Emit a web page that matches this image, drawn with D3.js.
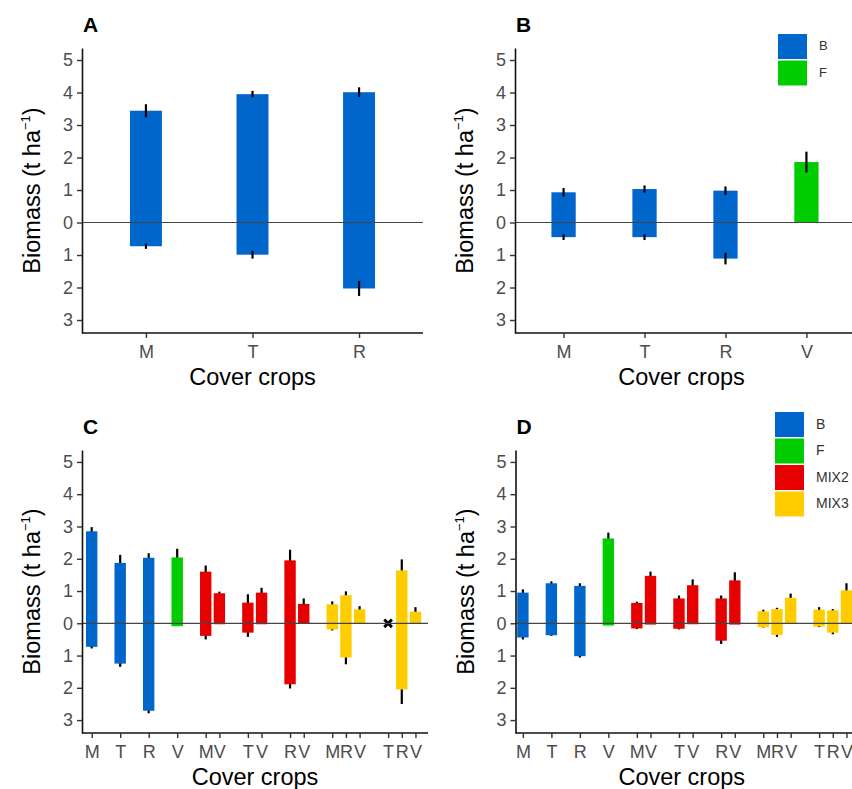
<!DOCTYPE html>
<html>
<head>
<meta charset="utf-8">
<script src="https://cdn.jsdelivr.net/npm/d3@7"></script>
<style>
  body { margin: 0; background: #fff; }
  svg text { font-family: 'Liberation Sans', Arial, sans-serif; }
</style>
</head>
<body>
<svg id="chart" width="852" height="789"></svg>
<script>
// ---- data (t/ha), shoot above zero, root below ----
const cropsA = ['M', 'T', 'R']
const shootA = [3.44, 3.95, 4.01]
const shootSeA = [0.20, 0.10, 0.15]
const rootA = [0.73, 0.99, 2.03]
const rootSeA = [0.08, 0.12, 0.23]

const cropsB = ['M', 'T', 'R', 'V']
const shootB = [0.93, 1.03, 0.98, 1.86]
const shootSeB = [0.13, 0.11, 0.13, 0.32]
const rootB = [0.45, 0.45, 1.11, 0]
const rootSeB = [0.09, 0.09, 0.18, 0]

// C and D: one bar per species inside each mixture
const groups = ['M', 'T', 'R', 'V', 'MV', 'TV', 'RV', 'MRV', 'TRV']
const groupType = ['B', 'B', 'B', 'F', 'MIX2', 'MIX2', 'MIX2', 'MIX3', 'MIX3']

const shootC = [2.85, 1.87, 2.03, 2.04, 1.60, 0.93, 0.64, 0.95, 1.95, 0.60, 0.59, 0.87, 0.43, null, 1.64, 0.36]
const shootSeC = [0.13, 0.25, 0.14, 0.27, 0.19, 0.05, 0.26, 0.15, 0.33, 0.17, 0.09, 0.12, 0.10, null, 0.34, 0.14]
const rootC = [0.73, 1.25, 2.71, 0.09, 0.39, 0.03, 0.29, 0.03, 1.89, 0.02, 0.19, 1.06, 0.02, null, 2.05, 0.02]
const rootSeC = [0.05, 0.10, 0.08, 0, 0.11, 0, 0.13, 0, 0.13, 0, 0.03, 0.21, 0, null, 0.45, 0]

const shootD = [0.95, 1.24, 1.16, 2.63, 0.63, 1.47, 0.77, 1.18, 0.77, 1.33, 0.37, 0.44, 0.79, 0.42, 0.40, 1.02]
const shootSeD = [0.10, 0.06, 0.08, 0.18, 0.04, 0.13, 0.09, 0.18, 0.09, 0.25, 0.05, 0.04, 0.13, 0.08, 0.04, 0.22]
const rootD = [0.44, 0.37, 1.02, 0.07, 0.16, 0.04, 0.17, 0.03, 0.54, 0.04, 0.12, 0.36, 0.01, 0.10, 0.29, 0.01]
const rootSeD = [0.06, 0.02, 0.04, 0, 0.02, 0, 0.02, 0, 0.10, 0, 0.01, 0.06, 0, 0.02, 0.05, 0]

const legendTypes = ['B', 'F', 'MIX2', 'MIX3']
const yTicks = [-3, -2, -1, 0, 1, 2, 3, 4, 5]

const colors = {B: '#0066cc', F: '#00cc00', MIX2: '#e60000', MIX3: '#ffcc00'}

let svg = d3.select('#chart')

// species bars for C / D, positions: 1 unit between groups, 0.48 within a mixture
function speciesBars (shoot, shootSe, root, rootSe) {
    let bars = []
    let pos = 0
    groups.forEach((g, gi) => {
        g.split('').forEach((letter, li) => {
            pos += li == 0 ? 1 : 0.48
            let i = bars.length
            bars.push({label: letter, pos: pos, type: groupType[gi],
                shoot: shoot[i], shootSe: shootSe[i], root: root[i], rootSe: rootSe[i]})
        })
    })
    return bars
}

function simpleBars (crops, shoot, shootSe, root, rootSe) {
    return crops.map((c, i) => ({label: c, pos: i + 1, type: c == 'V' ? 'F' : 'B',
        shoot: shoot[i], shootSe: shootSe[i], root: root[i], rootSe: rootSe[i]}))
}

function drawPanel (p) {
    let g = svg.append('g')
    let x = d3.scaleLinear().domain(p.xDomain).range(p.xRange)
    let y = d3.scaleLinear().domain([-3.4, 5.37]).range(p.yRange)
    let bw = p.barWidth

    let data = p.bars.filter(d => d.shoot != null)

    function errors () {
        g.selectAll(null).data(data).enter().append('line')
        .attr('x1', d => x(d.pos)).attr('x2', d => x(d.pos))
        .attr('y1', d => y(d.shoot - d.shootSe)).attr('y2', d => y(d.shoot + d.shootSe))
        .attr('stroke', '#000').attr('stroke-width', 2.2)
        g.selectAll(null).data(data.filter(d => d.rootSe > 0)).enter().append('line')
        .attr('x1', d => x(d.pos)).attr('x2', d => x(d.pos))
        .attr('y1', d => y(-d.root + d.rootSe)).attr('y2', d => y(-d.root - d.rootSe))
        .attr('stroke', '#000').attr('stroke-width', 2.2)
    }

    if (!p.errorsOnTop) errors()

    g.selectAll(null).data(data).enter().append('rect')
    .attr('x', d => x(d.pos - bw / 2))
    .attr('width', d => x(d.pos + bw / 2) - x(d.pos - bw / 2))
    .attr('y', d => y(d.shoot))
    .attr('height', d => y(-d.root) - y(d.shoot))
    .attr('fill', d => colors[d.type])

    if (p.errorsOnTop) errors()

    // missing species
    g.selectAll(null).data(p.bars.filter(d => d.shoot == null)).enter().append('path')
    .attr('d', d3.symbol().type(d3.symbolX).size(40))
    .attr('transform', d => `translate(${x(d.pos)},${y(0)})`)
    .attr('stroke', '#000').attr('stroke-width', 3).attr('fill', 'none')

    // zero line
    g.append('line')
    .attr('x1', p.xRange[0]).attr('x2', p.xRange[1])
    .attr('y1', y(0)).attr('y2', y(0))
    .attr('stroke', '#444').attr('stroke-width', 1.2)

    // axes
    let yAxis = g.append('g').attr('transform', `translate(${p.xRange[0]},0)`)
    .call(d3.axisLeft(y).tickValues(yTicks).tickFormat(d => Math.abs(d)).tickSize(5).tickSizeOuter(0).tickPadding(4))
    let xAxis = g.append('g').attr('transform', `translate(0,${p.yRange[0]})`)
    .call(d3.axisBottom(x).tickValues(p.bars.map(d => d.pos)).tickFormat((d, i) => p.bars[i].label)
        .tickSize(5).tickSizeOuter(0).tickPadding(7))

    for (let a of [yAxis, xAxis]) {
        a.select('.domain').attr('stroke', '#111').attr('stroke-width', 1.6)
        a.selectAll('.tick line').attr('stroke', '#333').attr('stroke-width', 1.4)
        a.selectAll('.tick text').attr('fill', '#4d4d4d').style('font-size', '18px')
    }
    xAxis.select('.domain').attr('d', `M${p.xRange[0]},0H${p.xRange[1]}`)

    // titles
    g.append('text').text(p.letter)
    .attr('x', p.xRange[0] + 1).attr('y', p.yRange[1] - 16)
    .style('font-size', '21px').style('font-weight', 'bold')

    let yt = g.append('text')
    .attr('transform', `translate(${p.xRange[0] - 42},${(p.yRange[0] + p.yRange[1]) / 2}) rotate(-90)`)
    .attr('text-anchor', 'middle')
    .style('font-size', '23.5px').attr('fill', '#000')
    yt.append('tspan').text('Biomass (t ha')
    yt.append('tspan').text('\u22121').attr('dy', -10).style('font-size', '13px')
    yt.append('tspan').text(')').attr('dy', 10)

    g.append('text').text('Cover crops')
    .attr('x', (p.xRange[0] + Math.min(p.xRange[1], 852)) / 2 + (p.xRange[1] > 852 ? -2 : 0))
    .attr('y', p.yRange[0] + 52)
    .attr('text-anchor', 'middle')
    .style('font-size', '23.5px')

    if (p.legend) {
        let lg = g.selectAll(null).data(p.legend).enter().append('g')
        .attr('transform', (d, i) => `translate(${p.legendX},${p.legendY + i * 26.5})`)
        lg.append('rect').attr('width', 29).attr('height', 25)
        .attr('fill', d => colors[d])
        lg.append('text').text(d => d)
        .attr('x', 41).attr('y', 13).attr('dominant-baseline', 'middle')
        .attr('fill', '#333').style('font-size', p.legendFont)
    }
}

drawPanel({letter: 'A', bars: simpleBars(cropsA, shootA, shootSeA, rootA, rootSeA),
    xDomain: [0.4, 3.6], xRange: [82, 423], yRange: [333, 48], barWidth: 0.3, errorsOnTop: true})

drawPanel({letter: 'B', bars: simpleBars(cropsB, shootB, shootSeB, rootB, rootSeB),
    xDomain: [0.4, 4.6], xRange: [515, 855], yRange: [333, 48], barWidth: 0.3, errorsOnTop: true,
    legend: ['B', 'F'], legendX: 778, legendY: 34, legendFont: '13px'})

drawPanel({letter: 'C', bars: speciesBars(shootC, shootSeC, rootC, rootSeC),
    xDomain: [0.66, 12.8], xRange: [82, 428], yRange: [733, 450], barWidth: 0.4})

drawPanel({letter: 'D', bars: speciesBars(shootD, shootSeD, rootD, rootSeD),
    xDomain: [0.74, 12.8], xRange: [515.5, 859], yRange: [733, 450], barWidth: 0.4,
    legend: legendTypes, legendX: 775, legendY: 412, legendFont: '14px'})
</script>
</body>
</html>
